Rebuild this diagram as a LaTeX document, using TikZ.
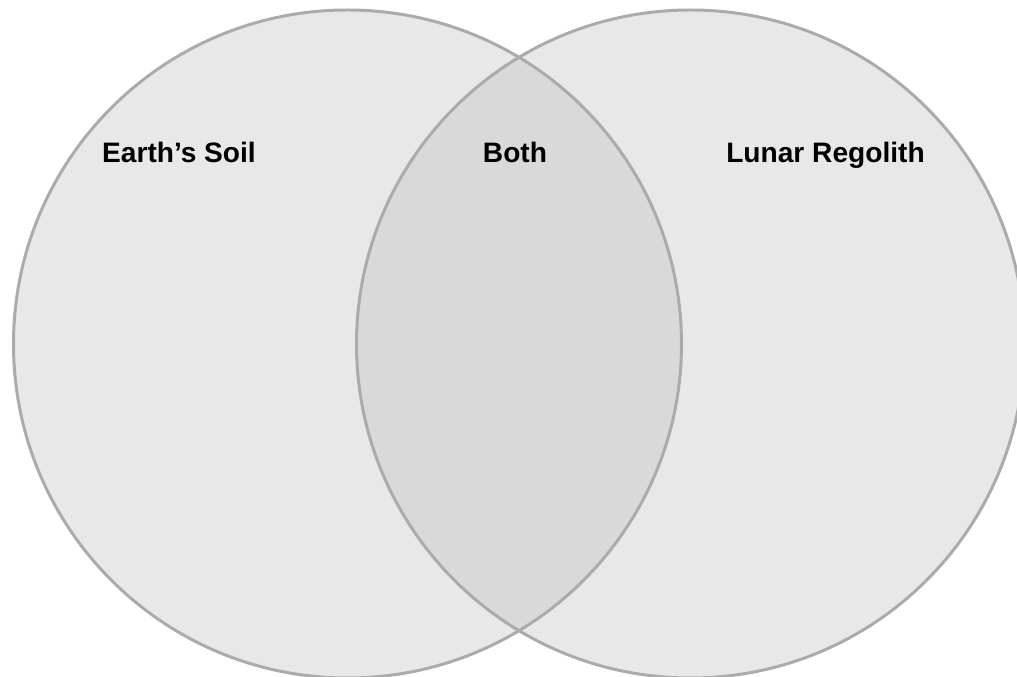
\documentclass[tikz,border=0pt]{standalone}
\usepackage{fontspec}
\setmainfont{Liberation Sans}
\definecolor{vennfill}{HTML}{E8E8E8}
\definecolor{vennboth}{HTML}{D9D9D9}
\definecolor{vennline}{HTML}{ABABAB}

\begin{document}
\begin{tikzpicture}[
   setlabel/.style={font=\fontsize{16}{19}\selectfont\bfseries, anchor=base},
   setline/.style={draw=vennline, line width=1.7pt}]
   \useasboundingbox (0,0) rectangle (20.34,13.54);
   \clip (0,0) rectangle (20.34,13.54);
   \coordinate (soil) at (6.95,6.66);
   \coordinate (moon) at (13.81,6.66);
   % the two sets, then the overlap on top
   \fill[vennfill] (soil) circle (6.68);
   \fill[vennfill] (moon) circle (6.68);
   \begin{scope}
      \clip (soil) circle (6.68);
      \fill[vennboth] (moon) circle (6.68);
   \end{scope}
   \draw[setline] (soil) circle (6.68);
   \draw[setline] (moon) circle (6.68);
   \node[setlabel] (earth) at (3.58,10.28) {Earth’s Soil};
   \node[setlabel] (both) at (10.3,10.28) {Both};
   \node[setlabel] (lunar) at (16.51,10.28) {Lunar Regolith};
\end{tikzpicture}
\end{document}
